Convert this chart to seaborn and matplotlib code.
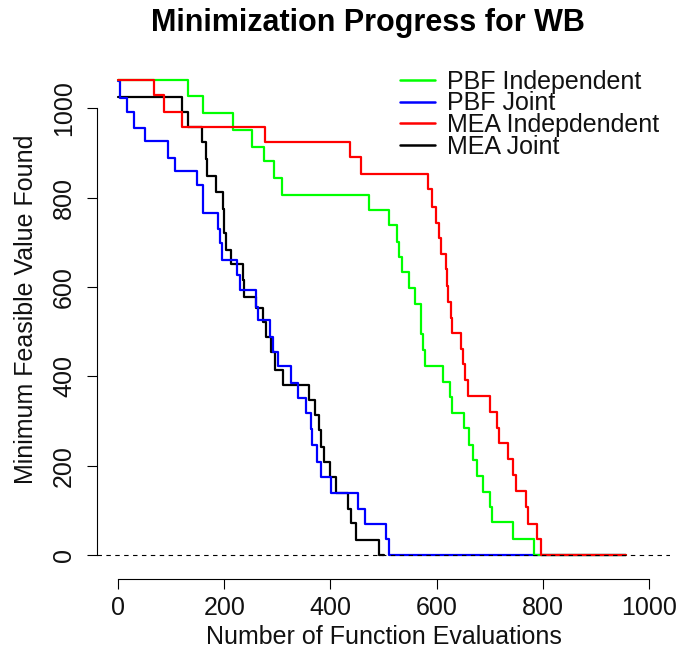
import matplotlib
matplotlib.use("Agg")
import matplotlib.pyplot as plt
import seaborn as sns
import pandas as pd

# Best feasible objective value after each function evaluation (step changes only)
evals_pbf_indep = [0, 132, 159, 216, 253, 274, 293, 309, 473, 511, 525, 530, 534, 549, 559,
                   570, 574, 578, 612, 626, 629, 651, 662, 668, 676, 687, 701, 705, 745, 784, 957]
values_pbf_indep = [1063, 1027, 989, 951, 914, 883, 845, 807, 772, 738, 701, 668, 634, 597, 563,
                    495, 459, 423, 388, 354, 319, 284, 246, 213, 177, 142, 108, 75, 36, 0, 0]

evals_pbf_joint = [0, 3, 16, 29, 51, 94, 107, 148, 159, 188, 191, 196, 224, 229, 259, 263, 286,
                   291, 301, 326, 338, 353, 363, 366, 375, 382, 401, 451, 465, 505, 510, 957]
values_pbf_joint = [1060, 1022, 992, 955, 927, 888, 860, 828, 766, 730, 698, 660, 627, 593, 556,
                    526, 489, 455, 422, 384, 351, 319, 282, 246, 209, 175, 139, 102, 69, 35, 0, 0]

evals_mea_indep = [0, 68, 86, 120, 276, 437, 457, 584, 592, 599, 605, 609, 617, 620, 622, 627,
                   630, 647, 649, 654, 660, 701, 714, 717, 734, 745, 749, 769, 773, 789, 797, 957]
values_mea_indep = [1063, 1030, 992, 959, 925, 890, 853, 819, 780, 744, 709, 674, 640, 603, 567,
                    531, 496, 461, 428, 392, 357, 321, 284, 251, 216, 179, 144, 108, 69, 36, 0, 0]

evals_mea_joint = [0, 120, 132, 157, 166, 168, 185, 198, 199, 204, 213, 236, 238, 259, 273, 279,
                   288, 296, 310, 360, 370, 378, 382, 388, 399, 410, 434, 438, 448, 492, 500]
values_mea_joint = [1026, 992, 959, 925, 886, 848, 813, 775, 720, 683, 651, 615, 578, 552, 522,
                    489, 455, 414, 381, 347, 313, 280, 242, 209, 175, 139, 104, 71, 34, 0, 0]

series_names = ["PBF Independent", "PBF Joint", "MEA Indepdendent", "MEA Joint"]
series_colors = ["#00FF00", "#0000FF", "#FF0000", "#000000"]

frames = []
for name, xs, ys in zip(series_names,
                        [evals_pbf_indep, evals_pbf_joint, evals_mea_indep, evals_mea_joint],
                        [values_pbf_indep, values_pbf_joint, values_mea_indep, values_mea_joint]):
    frames.append(pd.DataFrame({"evals": xs, "value": ys, "method": name}))
df = pd.concat(frames, ignore_index=True)

sns.set_style("white")
plt.rcParams["font.family"] = ["Liberation Sans", "DejaVu Sans"]

W, H = 678, 657
FS = 18
fig = plt.figure(figsize=(W / 100, H / 100), dpi=100)
# plot region in pixels: x 97..670, y 70..579
ax = fig.add_axes([97 / W, 1 - 579 / H, (670 - 97) / W, (579 - 70) / H])

# draw order: black underneath, red on top
draw_order = ["MEA Joint", "PBF Joint", "PBF Independent", "MEA Indepdendent"]
for name in draw_order:
    color = series_colors[series_names.index(name)]
    sub = df[df["method"] == name]
    sns.lineplot(data=sub, x="evals", y="value", ax=ax, color=color, linewidth=1.6,
                 drawstyle="steps-post", estimator=None, sort=False, legend=False)

ax.axhline(0, color="black", linewidth=0.8, linestyle=(0, (4, 4)), zorder=5)

ax.set_xlim(-40, 1040)
ax.set_ylim(-53.7, 1085.7)
ax.set_xticks([0, 200, 400, 600, 800, 1000])
ax.set_yticks([0, 200, 400, 600, 800, 1000])
for side in ["top", "right"]:
    ax.spines[side].set_visible(False)
for side in ["left", "bottom"]:
    ax.spines[side].set_bounds(0, 1000)
    ax.spines[side].set_linewidth(0.8)
    ax.spines[side].set_color("black")
ax.tick_params(axis="both", direction="out", length=7, width=0.8, color="black",
               labelsize=FS, labelcolor="#111111", bottom=True, left=True)
ax.tick_params(axis="x", pad=5)
ax.tick_params(axis="y", pad=8)
for lbl in ax.get_yticklabels():
    lbl.set_rotation(90)
    lbl.set_va("center")
ax.set_xlabel("")
ax.set_ylabel("")

fig.text(384 / W, 1 - 637 / H, "Number of Function Evaluations", ha="center", va="center",
         fontsize=FS, color="#111111")
fig.text(26 / W, 1 - 309 / H, "Minimum Feasible Value Found", ha="center", va="center",
         rotation=90, fontsize=FS, color="#111111")
fig.text(368 / W, 1 - 23 / H, "Minimization Progress for WB", ha="center", va="center",
         fontsize=22, fontweight="bold", color="black")

handles = [plt.Line2D([], [], color=c, linewidth=1.8) for c in series_colors]
leg = ax.legend(handles, series_names, loc="upper left", bbox_to_anchor=(400 / W, 1 - 70 / H),
                bbox_transform=fig.transFigure, frameon=False, fontsize=FS,
                handlelength=1.4, handletextpad=0.48, labelspacing=-0.1,
                borderpad=0, borderaxespad=0)
for t in leg.get_texts():
    t.set_color("#111111")

fig.savefig("out.png", dpi=100, facecolor="white")
